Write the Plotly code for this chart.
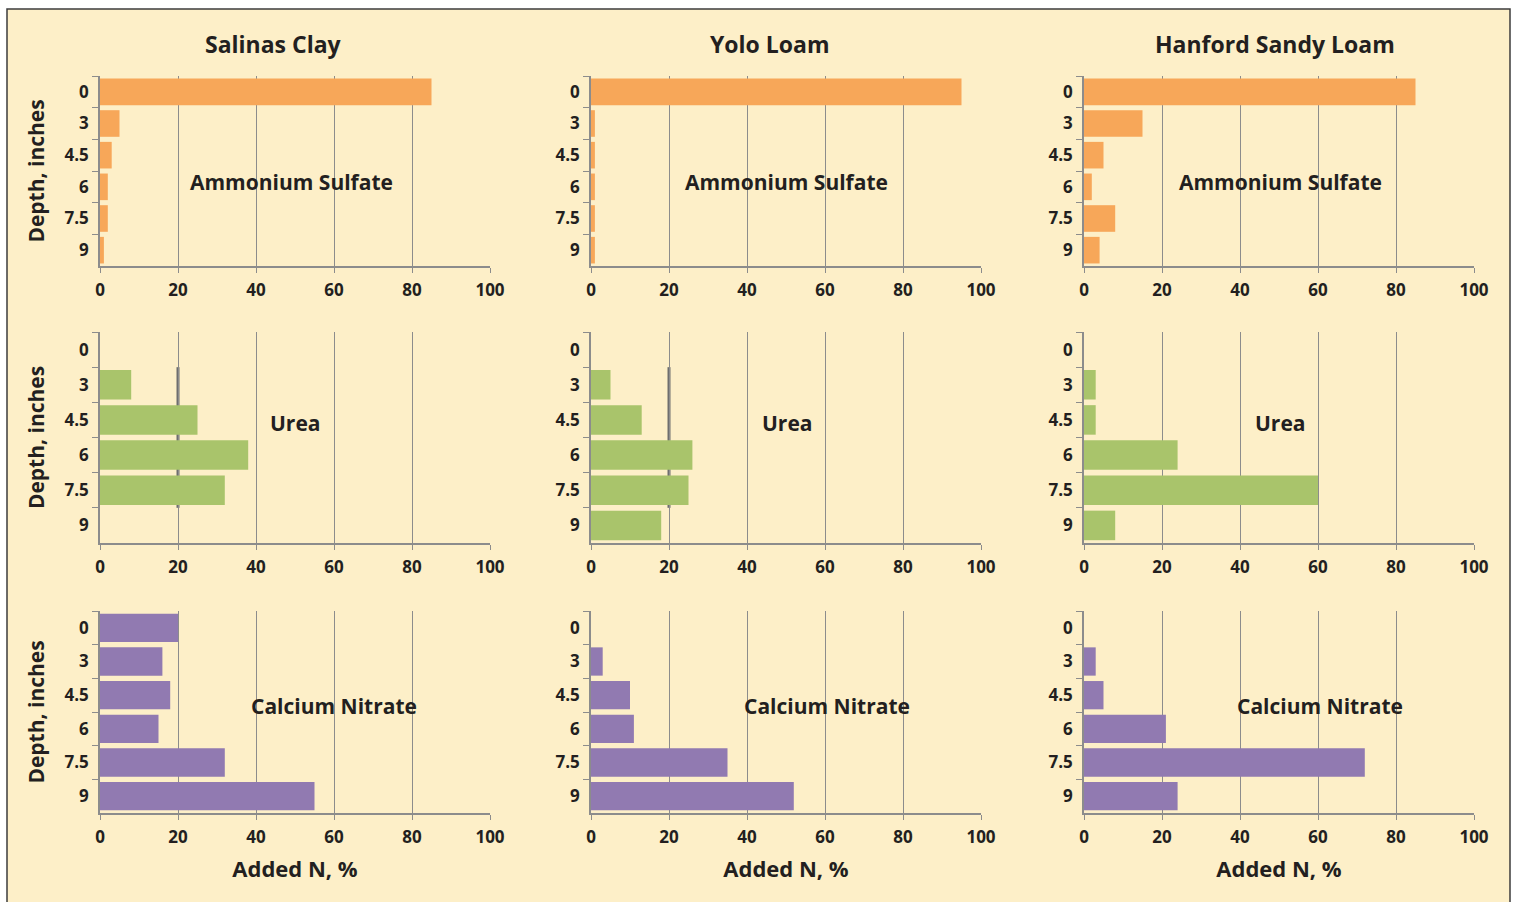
import plotly.graph_objects as go

depths = ["0", "3", "4.5", "6", "7.5", "9"]
soils = ["Salinas Clay", "Yolo Loam", "Hanford Sandy Loam"]
fertilizers = ["Ammonium Sulfate", "Urea", "Calcium Nitrate"]

# Added N, % by depth (top to bottom)
as_salinas = [85, 5, 3, 2, 2, 1]
as_yolo = [95, 1, 1, 1, 1, 1]
as_hanford = [85, 15, 5, 2, 8, 4]

urea_salinas = [0, 8, 25, 38, 32, 0]
urea_yolo = [0, 5, 13, 26, 25, 18]
urea_hanford = [0, 3, 3, 24, 60, 8]

cn_salinas = [20, 16, 18, 15, 32, 55]
cn_yolo = [0, 3, 10, 11, 35, 52]
cn_hanford = [0, 3, 5, 21, 72, 24]

x_ticks = [0, 20, 40, 60, 80, 100]

data = [
    [as_salinas, as_yolo, as_hanford],
    [urea_salinas, urea_yolo, urea_hanford],
    [cn_salinas, cn_yolo, cn_hanford],
]
colors = ["#F7A759", "#A9C46B", "#917AB1"]

W, H = 1517, 902
col_px = [(100, 490), (591, 981), (1084, 1474)]
row_px = [(76, 266), (332, 543), (611, 813)]
label_pos = [
    [(0.49, 0.44), (0.50, 0.44), (0.505, 0.44)],
    [(0.50, 0.57), (0.505, 0.57), (0.505, 0.57)],
    [(0.60, 0.53), (0.605, 0.53), (0.605, 0.53)],
]

FONT = "Open Sans"
TXT = "#231F20"

fig = go.Figure()
annotations = []
shapes = [
    dict(type="rect", xref="paper", yref="paper",
         x0=7 / W, x1=1510 / W, y0=-0.02, y1=1 - 9 / H,
         fillcolor="#FDEFC8", line=dict(color="#3C3C3C", width=1.5),
         layer="below"),
]

for r in range(3):
    for c in range(3):
        idx = r * 3 + c + 1
        xa = "x" if idx == 1 else f"x{idx}"
        ya = "y" if idx == 1 else f"y{idx}"
        fig.add_trace(go.Bar(
            x=data[r][c], y=depths, orientation="h",
            marker=dict(color=colors[r], line=dict(width=0)),
            xaxis=xa, yaxis=ya, showlegend=False, hoverinfo="x+y",
        ))
        x0, x1 = col_px[c]
        y0, y1 = row_px[r]
        xkey = "xaxis" if idx == 1 else f"xaxis{idx}"
        ykey = "yaxis" if idx == 1 else f"yaxis{idx}"
        fig.layout[xkey] = dict(
            domain=[x0 / W, x1 / W], anchor=ya, range=[0, 100],
            automargin=False,
            tickvals=x_ticks, ticktext=[str(v) for v in x_ticks],
            showgrid=True, gridcolor="#8C8C8C", gridwidth=1,
            showline=True, linecolor="#8C8C8C", linewidth=1.5,
            ticks="outside", ticklen=5, tickcolor="#8C8C8C",
            ticklabelstandoff=3,
            tickfont=dict(family=FONT, size=17, color=TXT, weight="bold"),
            zeroline=False, fixedrange=True,
            title=dict(text="Added N, %" if r == 2 else "",
                       font=dict(family=FONT, size=22, color=TXT, weight="bold"),
                       standoff=14),
        )
        fig.layout[ykey] = dict(
            domain=[1 - y1 / H, 1 - y0 / H], anchor=xa, type="category",
            automargin=False,
            categoryorder="array", categoryarray=depths, autorange="reversed",
            showgrid=False, showline=True, linecolor="#8C8C8C", linewidth=1.5,
            ticks="outside", tickson="boundaries", ticklen=6, tickcolor="#8C8C8C",
            ticklabelstandoff=6,
            tickfont=dict(family=FONT, size=17, color=TXT, weight="bold"),
            zeroline=False, fixedrange=True,
            title=dict(text="Depth, inches" if c == 0 else "",
                       font=dict(family=FONT, size=21, color=TXT, weight="bold"),
                       standoff=14),
        )
        lx, ly = label_pos[r][c]
        annotations.append(dict(
            text=fertilizers[r], xref=f"{xa} domain", yref=f"{ya} domain",
            x=lx, y=ly, showarrow=False, xanchor="center", yanchor="middle",
            font=dict(family=FONT, size=21, color=TXT, weight="bold"),
        ))
        # darker gridline segment at 20 seen in the Urea panels of the first two soils
        if r == 1 and c < 2:
            shapes.append(dict(
                type="line", xref=xa, yref=ya,
                x0=x_ticks[1], x1=x_ticks[1], y0=0.5, y1=4.5,
                line=dict(color="#6E6E6E", width=3), layer="below",
            ))

title_x = [273, 770, 1275]
for c in range(3):
    annotations.append(dict(
        text=soils[c], xref="paper", yref="paper",
        x=title_x[c] / W, y=1 - 44 / H, showarrow=False,
        xanchor="center", yanchor="middle",
        font=dict(family=FONT, size=23, color=TXT, weight="bold"),
    ))

fig.update_layout(
    template="none",
    width=W, height=H, autosize=False,
    margin=dict(l=0, r=0, t=0, b=0, pad=0),
    paper_bgcolor="white", plot_bgcolor="white",
    bargap=0.16,
    annotations=annotations, shapes=shapes,
)

fig.write_html("out.html", config={"displayModeBar": False, "responsive": False},
               post_script="document.body.style.margin='0';document.body.style.overflow='hidden';")
